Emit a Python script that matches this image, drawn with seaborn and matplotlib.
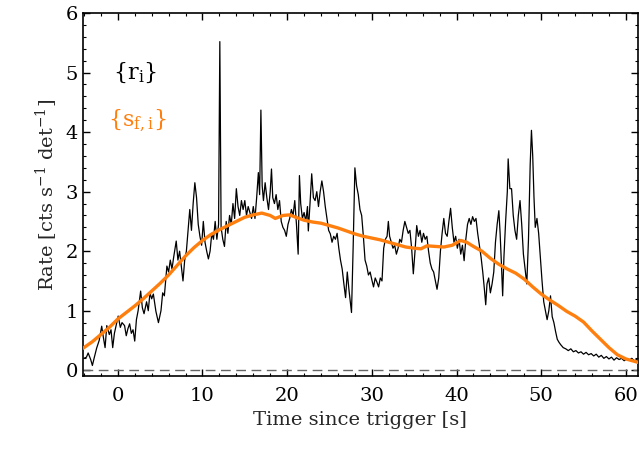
import numpy as np
import pandas as pd
import matplotlib
matplotlib.use("Agg")
import matplotlib.pyplot as plt
from matplotlib.ticker import MultipleLocator
import seaborn as sns

# ---- data ----
r_time = [-4.0, -3.7, -3.5, -3.2, -3.0, -2.8, -2.5, -2.2, -1.9, -1.7, -1.5, -1.3, -1.0, -0.8, -0.6, -0.4, -0.2,
          0.05, 0.3, 0.5, 0.8, 1.0, 1.2, 1.4, 1.6, 1.8, 2.0, 2.2, 2.4, 2.7, 2.9, 3.1, 3.4, 3.6, 3.8, 4.0, 4.2,
          4.5, 4.8, 5.1, 5.3, 5.5, 5.8, 6.0, 6.2, 6.4, 6.6, 6.9, 7.1, 7.3, 7.5, 7.7, 7.9, 8.1, 8.3, 8.5, 8.7,
          8.9, 9.1, 9.3, 9.5, 9.7, 9.9, 10.1, 10.3, 10.5, 10.7, 10.9, 11.1, 11.3, 11.5, 11.7, 11.9, 12.05,
          12.2, 12.4, 12.6, 12.8, 13.0, 13.2, 13.4, 13.6, 13.8, 14.0, 14.2, 14.4, 14.6, 14.8, 15.0, 15.2,
          15.4, 15.6, 15.8, 16.0, 16.2, 16.4, 16.6, 16.75, 16.9, 17.05, 17.2, 17.4, 17.6, 17.8, 18.0, 18.15,
          18.3, 18.5, 18.7, 18.9, 19.1, 19.3, 19.5, 19.7, 19.9, 20.1, 20.3, 20.5, 20.7, 20.9, 21.1, 21.3,
          21.45, 21.6, 21.8, 22.0, 22.2, 22.4, 22.5, 22.7, 22.9, 23.1, 23.3, 23.5, 23.7, 23.9, 24.1, 24.3,
          24.5, 24.7, 24.9, 25.1, 25.3, 25.5, 25.7, 25.9, 26.1, 26.3, 26.5, 26.7, 26.9, 27.1, 27.3, 27.6,
          27.8, 28.0, 28.2, 28.4, 28.6, 28.8, 29.0, 29.2, 29.4, 29.6, 29.8, 30.0, 30.2, 30.4, 30.6, 30.8,
          31.0, 31.2, 31.4, 31.6, 31.8, 31.95, 32.1, 32.3, 32.5, 32.7, 32.9, 33.1, 33.3, 33.5, 33.7, 33.9,
          34.1, 34.3, 34.5, 34.7, 34.9, 35.1, 35.3, 35.5, 35.7, 35.9, 36.1, 36.3, 36.5, 36.7, 36.9, 37.1,
          37.3, 37.5, 37.7, 37.9, 38.1, 38.3, 38.5, 38.7, 38.9, 39.1, 39.3, 39.5, 39.7, 39.9, 40.1, 40.3,
          40.5, 40.7, 40.9, 41.1, 41.3, 41.5, 41.7, 41.9, 42.1, 42.3, 42.5, 42.7, 42.9, 43.1, 43.3, 43.45,
          43.6, 43.8, 44.0, 44.2, 44.4, 44.6, 44.8, 45.0, 45.15, 45.3, 45.45, 45.6, 45.8, 46.0, 46.1, 46.3,
          46.5, 46.7, 46.9, 47.1, 47.3, 47.5, 47.7, 47.9, 48.1, 48.3, 48.5, 48.7, 48.85, 49.0, 49.15, 49.3,
          49.5, 49.7, 49.9, 50.1, 50.3, 50.5, 50.7, 50.9, 51.1, 51.3, 51.5, 51.7, 51.9, 52.1, 52.3, 52.6,
          52.9, 53.2, 53.5, 53.8, 54.1, 54.4, 54.7, 55.0, 55.3, 55.6, 55.9, 56.2, 56.5, 56.8, 57.1, 57.4,
          57.7, 58.0, 58.3, 58.6, 58.9, 59.2, 59.5, 59.8, 60.1, 60.4, 60.7, 61.0, 61.3]
r_rate = [0.20, 0.22, 0.29, 0.18, 0.08, 0.20, 0.37, 0.50, 0.74, 0.55, 0.38, 0.75, 0.60, 0.68, 0.38, 0.62, 0.75,
          0.91, 0.72, 0.80, 0.75, 0.58, 0.70, 0.78, 0.62, 0.68, 0.49, 0.85, 1.00, 1.33, 1.05, 0.95, 1.15, 1.00,
          1.30, 1.20, 1.28, 0.99, 0.80, 1.00, 1.30, 1.25, 1.75, 1.65, 1.85, 1.70, 1.90, 2.17, 1.85, 2.00, 1.75,
          1.50, 1.85, 2.00, 2.35, 2.70, 2.35, 2.80, 3.15, 2.90, 2.45, 2.25, 2.10, 2.50, 2.15, 2.00, 1.87, 2.00,
          2.30, 2.20, 2.50, 2.20, 2.45, 5.52, 2.40, 2.20, 2.08, 2.50, 2.30, 2.60, 2.45, 2.80, 2.55, 3.05, 2.75,
          2.60, 2.85, 2.70, 2.85, 2.60, 2.75, 2.65, 2.55, 2.75, 2.55, 2.90, 3.32, 2.95, 4.37, 3.10, 2.85, 3.15,
          2.90, 2.70, 3.00, 3.38, 2.90, 2.80, 2.95, 2.70, 2.85, 2.50, 2.40, 2.35, 2.25, 2.45, 2.55, 2.70, 2.60,
          2.85, 2.45, 1.95, 3.27, 2.80, 2.55, 2.65, 2.50, 2.75, 2.34, 2.80, 3.30, 2.90, 2.85, 3.00, 2.75, 3.00,
          3.18, 3.00, 2.75, 2.55, 2.35, 2.29, 2.15, 2.25, 2.20, 2.30, 2.05, 1.85, 1.70, 1.45, 1.22, 1.65, 1.35,
          0.97, 2.10, 3.40, 3.10, 2.95, 2.70, 2.60, 2.25, 1.85, 1.75, 1.60, 1.65, 1.52, 1.40, 1.55, 1.48, 1.40,
          1.55, 1.50, 2.05, 2.20, 2.25, 2.50, 2.25, 2.15, 2.05, 2.10, 1.95, 2.05, 2.20, 2.15, 2.35, 2.50, 2.40,
          2.30, 2.35, 2.05, 1.62, 2.00, 2.43, 2.25, 2.35, 2.15, 2.30, 2.20, 2.25, 2.00, 1.80, 1.70, 1.65, 1.50,
          1.36, 1.55, 2.00, 2.30, 2.55, 2.30, 2.25, 2.50, 2.72, 2.40, 2.15, 2.25, 2.05, 2.20, 1.95, 2.10, 1.84,
          2.20, 2.45, 2.55, 2.45, 2.58, 2.50, 2.55, 2.30, 2.10, 1.90, 1.65, 1.35, 1.10, 1.45, 1.55, 1.30, 1.45,
          1.65, 2.15, 2.45, 2.68, 2.30, 1.80, 1.25, 1.90, 2.50, 3.00, 3.55, 3.05, 3.05, 2.60, 2.35, 2.20, 2.60,
          2.85, 2.45, 1.95, 1.70, 1.45, 2.20, 3.45, 4.03, 3.60, 2.90, 2.40, 2.55, 2.30, 1.90, 1.50, 1.15, 1.00,
          0.85, 1.00, 1.25, 0.90, 0.80, 0.65, 0.52, 0.47, 0.43, 0.38, 0.36, 0.33, 0.36, 0.31, 0.33, 0.29, 0.31,
          0.27, 0.30, 0.26, 0.28, 0.24, 0.27, 0.22, 0.25, 0.20, 0.23, 0.19, 0.22, 0.17, 0.21, 0.18, 0.20, 0.16,
          0.19, 0.17, 0.20, 0.16, 0.18]

s_time = [-4.1, -3, -2, -1, 0, 1, 2, 3, 4, 5, 6, 7, 8, 9, 10, 11, 12, 13, 14, 15, 16, 17, 18, 18.6, 19.5,
          20.3, 21, 22, 23, 24, 25, 26, 27, 28, 29, 30, 31, 32, 33, 34, 35, 35.8, 36.5, 37.5, 38.5, 39.5,
          40.5, 41.2, 42, 43, 44, 45, 46, 47, 48, 49, 50, 51, 52, 53, 54, 55, 56, 57, 58, 59, 60, 61, 61.5]
s_rate = [0.37, 0.48, 0.60, 0.72, 0.86, 0.97, 1.08, 1.20, 1.33, 1.46, 1.60, 1.76, 1.92, 2.06, 2.18, 2.28,
          2.36, 2.43, 2.50, 2.57, 2.61, 2.64, 2.60, 2.55, 2.60, 2.61, 2.57, 2.52, 2.49, 2.47, 2.43, 2.39,
          2.34, 2.29, 2.25, 2.22, 2.19, 2.15, 2.11, 2.07, 2.05, 2.04, 2.09, 2.08, 2.07, 2.10, 2.18, 2.15,
          2.08, 2.00, 1.88, 1.78, 1.70, 1.63, 1.53, 1.40, 1.28, 1.18, 1.09, 0.99, 0.91, 0.81, 0.66, 0.52,
          0.38, 0.26, 0.19, 0.15, 0.13]

x_ticks = [0, 10, 20, 30, 40, 50, 60]
y_ticks = [0, 1, 2, 3, 4, 5, 6]

df_r = pd.DataFrame({"t": r_time, "rate": r_rate})
df_s = pd.DataFrame({"t": s_time, "rate": s_rate})

sns.set_style("ticks")
plt.rcParams["font.family"] = ["DejaVu Serif"]
plt.rcParams["mathtext.fontset"] = "dejavuserif"

fig = plt.figure(figsize=(6.39, 4.5), dpi=100)
ax = fig.add_axes([0.130, 0.164, 0.868, 0.807])

ax.axhline(0, color="#666666", lw=1.0, ls=(0, (7, 4)), zorder=1)
sns.lineplot(data=df_r, x="t", y="rate", ax=ax, color="black", lw=0.9, zorder=3,
             estimator=None, sort=False)
sns.lineplot(data=df_s, x="t", y="rate", ax=ax, color="#ff7f0e", lw=2.4, zorder=4,
             estimator=None, sort=False)

ax.set_xlim(-4.1, 61.4)
ax.set_ylim(-0.1, 6)
ax.set_xticks(x_ticks)
ax.set_yticks(y_ticks)
ax.xaxis.set_minor_locator(MultipleLocator(2))
ax.yaxis.set_minor_locator(MultipleLocator(0.2))
ax.tick_params(which="both", direction="in", top=True, right=True, labelsize=14, colors="black")
ax.tick_params(which="major", length=5, width=1)
ax.tick_params(which="minor", length=2.5, width=0.8)
ax.tick_params(axis="x", pad=8)
for s in ax.spines.values():
    s.set_linewidth(1.2)
    s.set_color("black")

ax.set_xlabel("Time since trigger [s]", fontsize=14)
ax.set_ylabel(r"Rate [cts s$^{-1}$ det$^{-1}$]", fontsize=14)

ax.text(-0.6, 5.0, r"$\{\mathrm{r_i}\}$", fontsize=16, color="black", va="center", ha="left")
ax.text(-1.2, 4.2, r"$\{\mathrm{s_{f,i}}\}$", fontsize=16, color="#ff7f0e", va="center", ha="left")

fig.savefig("out.png", dpi=100)
